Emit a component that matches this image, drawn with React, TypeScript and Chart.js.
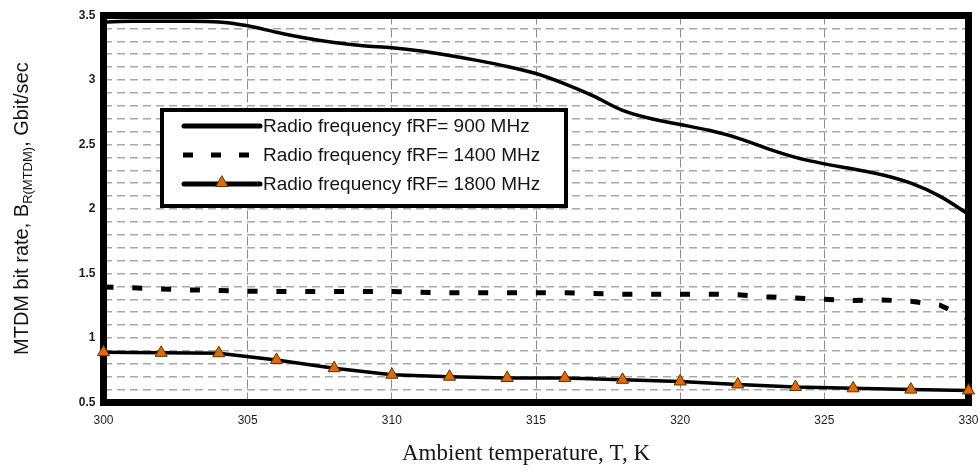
import React, { useEffect, useRef } from 'react';
import { Chart, registerables } from 'chart.js';

Chart.register(...registerables);

// ---- data ----
const tempsK = [300, 301, 302, 303, 304, 305, 306, 307, 308, 309, 310, 311, 312, 313, 314, 315, 316, 317, 318, 319, 320, 321, 322, 323, 324, 325, 326, 327, 328, 329, 330];
const rate900 = [3.45, 3.455, 3.455, 3.455, 3.45, 3.42, 3.37, 3.325, 3.29, 3.265, 3.25, 3.225, 3.19, 3.15, 3.105, 3.05, 2.97, 2.875, 2.765, 2.7, 2.655, 2.61, 2.55, 2.47, 2.4, 2.35, 2.31, 2.265, 2.2, 2.1, 1.96];
const rate1400 = [1.395, 1.39, 1.38, 1.373, 1.368, 1.363, 1.36, 1.36, 1.36, 1.36, 1.36, 1.355, 1.35, 1.35, 1.35, 1.35, 1.35, 1.345, 1.34, 1.34, 1.34, 1.34, 1.335, 1.32, 1.31, 1.3, 1.29, 1.295, 1.285, 1.255, 1.15];
const temps1800 = [300, 302, 304, 306, 308, 310, 312, 314, 316, 318, 320, 322, 324, 326, 328, 330];
const rate1800 = [0.89, 0.885, 0.882, 0.83, 0.766, 0.715, 0.7, 0.69, 0.69, 0.676, 0.663, 0.64, 0.62, 0.61, 0.6, 0.593];

const xMin = 300;
const xMax = 330;
const xStep = 5;
const yMin = 0.5;
const yMax = 3.5;
const yGridStep = 0.1;
const yLabelStep = 0.5;

const legendLabels = [
  'Radio frequency fRF= 900 MHz',
  'Radio frequency fRF= 1400 MHz',
  'Radio frequency fRF= 1800 MHz',
];
const xTitle = 'Ambient temperature, T, K';
const yTitleMain = 'MTDM bit rate, B';
const yTitleSub = 'R(MTDM)';
const yTitleEnd = ', Gbit/sec';

const ORANGE = '#f06400';
const MARKER_EDGE = '#4a3c00';

function drawTriangle(ctx: CanvasRenderingContext2D, x: number, y: number, r: number) {
  ctx.beginPath();
  let rad = 0;
  ctx.moveTo(x + Math.sin(rad) * r, y - Math.cos(rad) * r);
  rad += (2 * Math.PI) / 3;
  ctx.lineTo(x + Math.sin(rad) * r, y - Math.cos(rad) * r);
  rad += (2 * Math.PI) / 3;
  ctx.lineTo(x + Math.sin(rad) * r, y - Math.cos(rad) * r);
  ctx.closePath();
  ctx.fillStyle = ORANGE;
  ctx.fill();
  ctx.strokeStyle = MARKER_EDGE;
  ctx.lineWidth = 1;
  ctx.stroke();
}

const framePlugin = {
  id: 'framePlugin',
  beforeDatasetsDraw(chart: any) {
    const { ctx, chartArea: a } = chart;
    ctx.save();
    ctx.strokeStyle = '#000';
    ctx.lineWidth = 7;
    ctx.strokeRect(a.left, a.top, a.right - a.left, a.bottom - a.top);
    ctx.restore();
  },
  afterDatasetsDraw(chart: any) {
    const { ctx } = chart;
    ctx.save();
    // legend box
    ctx.fillStyle = '#fff';
    ctx.fillRect(162, 110, 404, 96);
    ctx.strokeStyle = '#000';
    ctx.lineWidth = 4;
    ctx.strokeRect(162, 110, 404, 96);
    const rows = [126, 155, 184];
    const x0 = 184;
    const x1 = 260;
    ctx.lineCap = 'round';
    ctx.lineWidth = 5;
    ctx.beginPath();
    ctx.moveTo(x0, rows[0]);
    ctx.lineTo(x1, rows[0]);
    ctx.stroke();
    ctx.lineCap = 'butt';
    ctx.setLineDash([10, 18]);
    ctx.beginPath();
    ctx.moveTo(x0 - 1, rows[1]);
    ctx.lineTo(x1, rows[1]);
    ctx.stroke();
    ctx.setLineDash([]);
    ctx.lineCap = 'round';
    ctx.lineWidth = 5;
    ctx.beginPath();
    ctx.moveTo(x0, rows[2]);
    ctx.lineTo(x1, rows[2]);
    ctx.stroke();
    drawTriangle(ctx, 222, rows[2] - 1, 7);
    ctx.fillStyle = '#151515';
    ctx.font = '19px "Liberation Sans", Arial, sans-serif';
    ctx.textBaseline = 'middle';
    ctx.textAlign = 'left';
    legendLabels.forEach((t, i) => ctx.fillText(t, 263, rows[i] + 1));
    ctx.restore();
  },
  afterDraw(chart: any) {
    const { ctx } = chart;
    ctx.save();
    ctx.fillStyle = '#151515';
    ctx.font = '23px "Liberation Serif", "Times New Roman", serif';
    ctx.textAlign = 'center';
    ctx.textBaseline = 'alphabetic';
    ctx.fillText(xTitle, 526, 460);
    ctx.translate(27.5, 355);
    ctx.rotate(-Math.PI / 2);
    ctx.textAlign = 'left';
    ctx.font = '20px "Liberation Sans", Arial, sans-serif';
    ctx.fillText(yTitleMain, 0, 0);
    let w = ctx.measureText(yTitleMain).width;
    ctx.font = '13px "Liberation Sans", Arial, sans-serif';
    ctx.fillText(yTitleSub, w, 4);
    w += ctx.measureText(yTitleSub).width;
    ctx.font = '20px "Liberation Sans", Arial, sans-serif';
    ctx.fillText(yTitleEnd, w, 0);
    ctx.restore();
  },
};

export default function App() {
  const canvasRef = useRef<HTMLCanvasElement | null>(null);

  useEffect(() => {
    const canvas = canvasRef.current;
    if (!canvas) return;
    const chart = new Chart(canvas, {
      type: 'line',
      data: {
        datasets: [
          {
            label: legendLabels[0],
            data: tempsK.map((t, i) => ({ x: t, y: rate900[i] })),
            borderColor: '#000',
            borderWidth: 3.5,
            pointRadius: 0,
            cubicInterpolationMode: 'monotone',
            fill: false,
          },
          {
            label: legendLabels[1],
            data: tempsK.map((t, i) => ({ x: t, y: rate1400[i] })),
            borderColor: '#000',
            borderWidth: 5,
            borderDash: [10, 18.83],
            pointRadius: 0,
            tension: 0,
            fill: false,
          },
          {
            label: legendLabels[2],
            data: temps1800.map((t, i) => ({ x: t, y: rate1800[i] })),
            borderColor: '#000',
            borderWidth: 3.5,
            pointStyle: 'triangle',
            pointRadius: 7,
            pointBackgroundColor: ORANGE,
            pointBorderColor: MARKER_EDGE,
            pointBorderWidth: 1,
            tension: 0,
            fill: false,
            clip: 12,
          },
        ],
      },
      options: {
        animation: false,
        responsive: false,
        maintainAspectRatio: false,
        devicePixelRatio: 1,
        layout: { padding: { top: 15.5, right: 9.5, left: 0, bottom: 0 } },
        plugins: {
          legend: { display: false },
          tooltip: { enabled: false },
          title: { display: false },
        },
        scales: {
          x: {
            type: 'linear',
            min: xMin,
            max: xMax,
            afterFit: (s: any) => {
              s.height = 474 - 402.5;
              s.paddingRight = 0;
              s.paddingLeft = 0;
            },
            ticks: {
              stepSize: xStep,
              padding: 11,
              color: '#1c1c30',
              font: { size: 12, family: '"Liberation Sans", Arial, sans-serif' },
              callback: (v: any) => String(v),
            },
            grid: { color: '#8c8c8c', lineWidth: 1, drawTicks: false },
            border: { display: false, dash: [9, 4] },
          },
          y: {
            type: 'linear',
            min: yMin,
            max: yMax,
            afterFit: (s: any) => {
              s.width = 103.5;
              s.paddingTop = 0;
              s.paddingBottom = 0;
            },
            ticks: {
              stepSize: yGridStep,
              autoSkip: false,
              padding: 8,
              color: '#1c1c1c',
              font: { size: 12, weight: 'bold', family: '"Liberation Sans", Arial, sans-serif' },
              callback: (v: any) => {
                const q = v / yLabelStep;
                if (Math.abs(q - Math.round(q)) < 1e-6) return String(Math.round(v * 10) / 10);
                return '';
              },
            },
            grid: { color: '#a8a8a8', lineWidth: 1.6, drawTicks: false },
            border: { display: false, dash: [8, 5] },
          },
        },
      } as any,
      plugins: [framePlugin],
    });
    return () => chart.destroy();
  }, []);

  return (
    <div style={{ position: 'fixed', left: 0, top: 0, width: 978, height: 474, background: '#fff' }}>
      <canvas ref={canvasRef} width={978} height={474} style={{ display: 'block', width: 978, height: 474 }} />
    </div>
  );
}
